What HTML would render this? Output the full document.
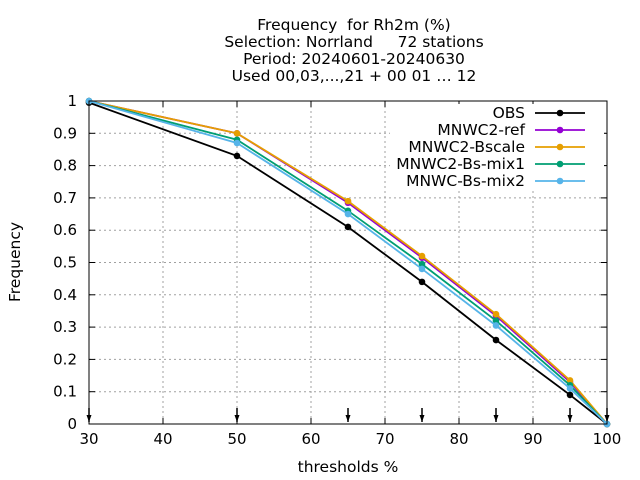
<!DOCTYPE html>
<html><head><meta charset="utf-8"><style>body{margin:0;background:#fff}svg{display:block;font-family:"DejaVu Sans",sans-serif}text{white-space:pre}</style></head>
<body>
<svg id="c" width="640" height="480">
<g font-size="15.5" text-anchor="middle" fill="#000">
<text x="354" y="30">Frequency  for Rh2m (%)</text>
<text x="354" y="47">Selection: Norrland     72 stations</text>
<text x="354" y="64">Period: 20240601-20240630</text>
<text x="354" y="81">Used 00,03,...,21 + 00 01 … 12</text>
</g>
<text x="20" y="262" font-size="15.5" text-anchor="middle" transform="rotate(-90 20 262)">Frequency</text>
<text x="348" y="472" font-size="15.5" text-anchor="middle">thresholds %</text>
</svg>
<script>
const xTicks=[30,40,50,60,70,80,90,100];
const yTicks=[0,0.1,0.2,0.3,0.4,0.5,0.6,0.7,0.8,0.9,1];
const yTickLabels=["0","0.1","0.2","0.3","0.4","0.5","0.6","0.7","0.8","0.9","1"];
const thresholds=[30,50,65,75,85,95,100];
const seriesNames=["OBS","MNWC2-ref","MNWC2-Bscale","MNWC2-Bs-mix1","MNWC-Bs-mix2"];
const obs=[0.995,0.83,0.61,0.44,0.26,0.09,0];
const ref=[1,0.90,0.685,0.515,0.335,0.13,0];
const bscale=[1,0.90,0.69,0.52,0.34,0.135,0];
const mix1=[1,0.88,0.66,0.495,0.32,0.12,0];
const mix2=[1,0.87,0.65,0.48,0.305,0.11,0];
const colors=["#000000","#9400d3","#e69f00","#009e73","#56b4e9"];
const L=89,R=607,T=101,B=424;
const xs=v=>L+(v-30)/70*(R-L), ys=v=>B-v*(B-T);
const svg=document.getElementById('c'),NS="http://www.w3.org/2000/svg";
function mk(t,a,p){const e=document.createElementNS(NS,t);for(const k in a)e.setAttribute(k,a[k]);(p||svg).appendChild(e);return e;}
const grid=mk('g',{});


xTicks.forEach(v=>{if(v>30&&v<100)mk('line',{x1:xs(v),x2:xs(v),y1:T,y2:B,stroke:'#a0a0a0','stroke-dasharray':'2,3','stroke-width':1},grid);
 const t=mk('text',{x:xs(v),y:B+20,'font-size':15,'text-anchor':'middle'});t.textContent=v;
 
 
 mk('line',{x1:xs(v),x2:xs(v),y1:B,y2:B-6,stroke:'#000'});mk('line',{x1:xs(v),x2:xs(v),y1:T,y2:T+6,stroke:'#000'});});
yTicks.forEach((v,i)=>{if(v>0&&v<1)mk('line',{x1:L,x2:R,y1:ys(v),y2:ys(v),stroke:'#a0a0a0','stroke-dasharray':'2,3','stroke-width':1},grid);
 const t=mk('text',{x:L-12,y:ys(v)+5,'font-size':15,'text-anchor':'end'});t.textContent=yTickLabels[i];
 
 
 mk('line',{x1:L,x2:L+6,y1:ys(v),y2:ys(v),stroke:'#000'});mk('line',{x1:R,x2:R-6,y1:ys(v),y2:ys(v),stroke:'#000'});});
mk('rect',{x:390,y:104,width:214,height:86,fill:'#fff'});
thresholds.forEach(v=>{const a=mk('line',{x1:xs(v),x2:xs(v),y1:408,y2:422,stroke:'#000','stroke-width':1.5});
 
 
 mk('path',{d:`M${xs(v)-2.5},415 L${xs(v)+2.5},415 L${xs(v)},422 Z`,fill:'#000'});});
const all=[obs,ref,bscale,mix1,mix2];
all.forEach((s,si)=>{const g=mk('g',{});
 
 
 mk('polyline',{points:s.map((v,i)=>xs(thresholds[i])+','+ys(v)).join(' '),fill:'none',stroke:colors[si],'stroke-width':1.8},g);
 s.forEach((v,i)=>mk('circle',{cx:xs(thresholds[i]),cy:ys(v),r:3.3,fill:colors[si]},g));
 const ly=113+si*17;
 const t=mk('text',{x:525,y:ly+5,'font-size':15.5,'text-anchor':'end'},g);t.textContent=seriesNames[si];
 const lg=mk('line',{x1:535,x2:585,y1:ly,y2:ly,stroke:colors[si],'stroke-width':1.8},g);
 
 
 mk('circle',{cx:560,cy:ly,r:3.3,fill:colors[si]},g);});
const fr=mk('rect',{x:L,y:T,width:R-L,height:B-T,fill:'none',stroke:'#000','stroke-width':1});


</script>
</body></html>
